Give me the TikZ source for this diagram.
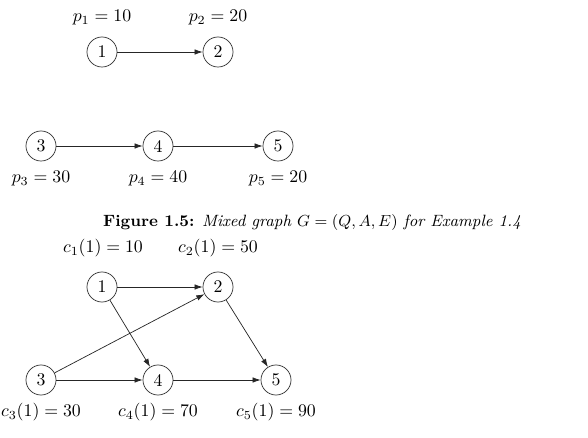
\documentclass[tikz,border=0pt]{standalone}
\usepackage{amsmath,amssymb}
\usepackage{tikz}
\usetikzlibrary{arrows.meta,positioning}
\tikzset{
  jobnode/.style={draw=black!80,circle,minimum size=16.9pt,inner sep=0pt,font=\normalsize},
  arcedge/.style={-{Latex[length=1.6mm,width=1.1mm]},line width=0.4pt,draw=black!85},
  valnote/.style={font=\normalsize,inner sep=1pt},
  capnote/.style={font=\fontsize{9.2pt}{11pt}\selectfont,inner sep=1pt}
}
\begin{document}
\begin{tikzpicture}[x=0.5625pt,y=-0.5625pt]
  \useasboundingbox (0,0) rectangle (588,438);
  % upper graph
  \node[jobnode] (a1) at (102,52) {1};
  \node[jobnode] (a2) at (218,52) {2};
  \node[jobnode] (a3) at (41,146) {3};
  \node[jobnode] (a4) at (158,146) {4};
  \node[jobnode] (a5) at (278,146) {5};
  \node[valnote] (pa1) at (102,18) {$p_1 = 10$};
  \node[valnote] (pa2) at (218,18) {$p_2 = 20$};
  \node[valnote] (pa3) at (41,179) {$p_3 = 30$};
  \node[valnote] (pa4) at (158,179) {$p_4 = 40$};
  \node[valnote] (pa5) at (278,179) {$p_5 = 20$};
  \draw[arcedge] (a1) -- (a2);
  \draw[arcedge] (a3) -- (a4); \draw[arcedge] (a4) -- (a5);
  % caption
  \node[capnote] (cap) at (312,223) {\textbf{Figure 1.5:} \textit{Mixed graph $G=(Q,A,E)$ for Example 1.4}};
  % lower graph
  \node[jobnode] (b1) at (102,287) {1};
  \node[jobnode] (b2) at (218,287) {2};
  \node[jobnode] (b3) at (41,380) {3};
  \node[jobnode] (b4) at (158,380) {4};
  \node[jobnode] (b5) at (276,380) {5};
  \node[valnote] (cb1) at (103,248) {$c_1(1) = 10$};
  \node[valnote] (cb2) at (218,248) {$c_2(1) = 50$};
  \node[valnote] (cb3) at (41,412) {$c_3(1) = 30$};
  \node[valnote] (cb4) at (158,412) {$c_4(1) = 70$};
  \node[valnote] (cb5) at (276,412) {$c_5(1) = 90$};
  \draw[arcedge] (b1) -- (b2); \draw[arcedge] (b1) -- (b4);
  \draw[arcedge] (b3) -- (b2); \draw[arcedge] (b2) -- (b5);
  \draw[arcedge] (b3) -- (b4); \draw[arcedge] (b4) -- (b5);
\end{tikzpicture}
\end{document}
